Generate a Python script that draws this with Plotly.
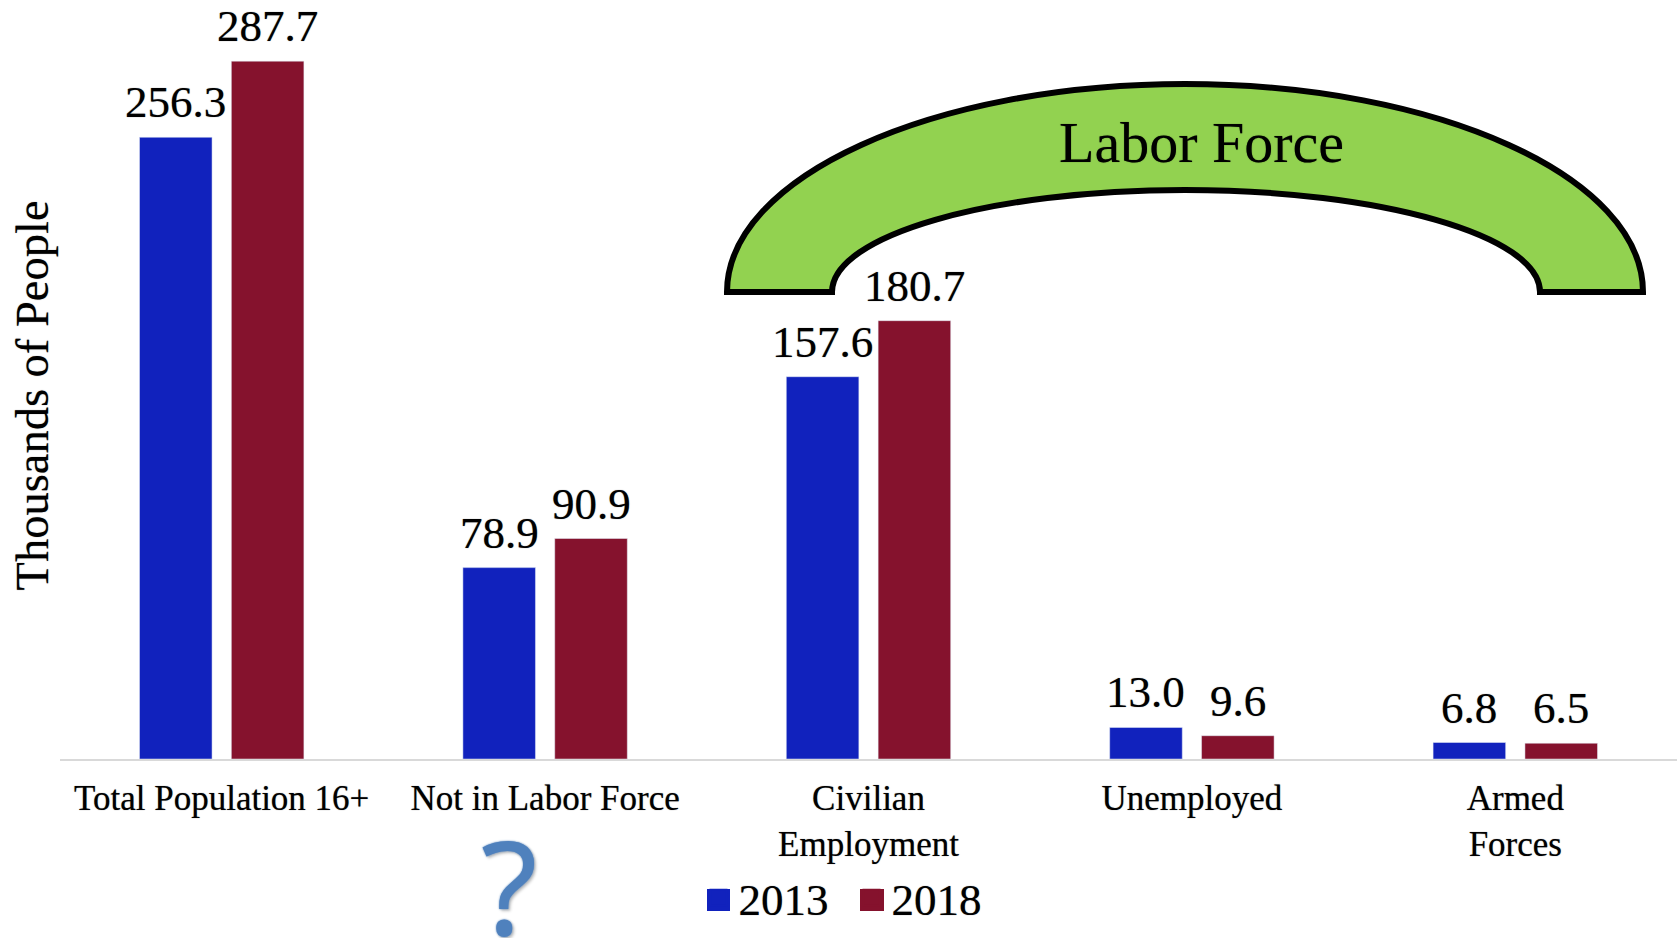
import plotly.graph_objects as go

categories = ["Total Population 16+", "Not in Labor Force", "Civilian<br>Employment", "Unemployed", "Armed<br>Forces"]
values_2013 = [256.3, 78.9, 157.6, 13.0, 6.8]
values_2018 = [287.7, 90.9, 180.7, 9.6, 6.5]
labels_2013 = ["256.3", "78.9", "157.6", "13.0", "6.8"]
labels_2018 = ["287.7", "90.9", "180.7", "9.6", "6.5"]

BLUE = "#1122BD"
RED = "#85122D"
SERIF = "Liberation Serif"
HEAVY = "0 0 1px rgba(0,0,0,0.55)"
W, H = 1677, 938
L, B = 60, 179
LABEL_SHIFT = 46
LABEL_LIFT = 8


def px(x):
    return (x - L) / (W - L)


def py(y):
    return (H - B - y) / (H - B)


def arch(x0, x1, ox0, ox1, top_o, top_i, base):
    k = 0.5523
    def p(x, y):
        return f"{px(x):.5f},{py(y):.5f}"
    cx = (x0 + x1) / 2
    rx, ry = (x1 - x0) / 2, base - top_o
    irx, iry = (ox1 - ox0) / 2, base - top_i
    return (
        f"M{p(x0, base)} C{p(x0, base - k * ry)} {p(cx - k * rx, top_o)} {p(cx, top_o)} "
        f"C{p(cx + k * rx, top_o)} {p(x1, base - k * ry)} {p(x1, base)} "
        f"L{p(ox1, base)} C{p(ox1, base - k * iry)} {p(cx + k * irx, top_i)} {p(cx, top_i)} "
        f"C{p(cx - k * irx, top_i)} {p(ox0, base - k * iry)} {p(ox0, base)} Z"
    )


def swatch(x0, x1, y0, y1, color):
    return dict(type="rect", xref="paper", yref="paper", x0=px(x0), x1=px(x1), y0=py(y0), y1=py(y1),
                fillcolor=color, line=dict(width=0), layer="above")


def value_labels(values, labels, shift):
    return [dict(text=t, x=c, y=v, xref="x", yref="y", xshift=shift, yshift=LABEL_LIFT, showarrow=False,
                 xanchor="center", yanchor="bottom",
                 font=dict(family=SERIF, size=45, color="#000000", shadow=HEAVY))
            for c, v, t in zip(categories, values, labels)]


fig = go.Figure()
fig.add_bar(x=categories, y=values_2013, name="2013", marker_color=BLUE, showlegend=False)
fig.add_bar(x=categories, y=values_2018, name="2018", marker_color=RED, showlegend=False)
fig.add_scatter(x=[None], y=[None], name="2013", mode="markers",
                marker=dict(symbol="square", size=16, color=BLUE, line=dict(color=BLUE, width=2)))
fig.add_scatter(x=[None], y=[None], name="2018", mode="markers",
                marker=dict(symbol="square", size=16, color=RED, line=dict(color=RED, width=2)))

fig.update_layout(
    width=W, height=H,
    margin=dict(l=L, r=0, t=0, b=B, autoexpand=False),
    paper_bgcolor="white", plot_bgcolor="white",
    barmode="group", bargap=0.432, bargroupgap=0.21,
    xaxis=dict(showgrid=False, zeroline=False, showline=True, linecolor="#D9D9D9", linewidth=2,
               ticks="", tickangle=0, tickfont=dict(family=SERIF, size=35, color="#000000", shadow=HEAVY),
               automargin=False, ticklabelstandoff=7),
    yaxis=dict(range=[0, 312.9], visible=False, fixedrange=True),
    showlegend=True,
    legend=dict(orientation="h", x=(698.5 - L) / (W - L), xanchor="left", y=-(898 - 759) / 759, yanchor="middle",
                font=dict(family=SERIF, size=45, color="#000000", shadow=HEAVY), bgcolor="rgba(0,0,0,0)",
                traceorder="normal", entrywidth=108),
    shapes=[
        dict(type="path", xref="paper", yref="paper",
             path=arch(727, 1643, 832, 1540, 84, 190, 292),
             fillcolor="#92D250", line=dict(color="#000000", width=6), layer="above"),
        swatch(707, 730, 889, 911, BLUE),
        swatch(860, 884, 889, 911, RED),
    ],
    annotations=value_labels(values_2013, labels_2013, -LABEL_SHIFT)
    + value_labels(values_2018, labels_2018, LABEL_SHIFT)
    + [
        dict(text="Labor Force", xref="paper", yref="paper", x=px(1201), y=py(143), showarrow=False,
             xanchor="center", yanchor="middle",
             font=dict(family=SERIF, size=58, color="#000000", shadow=HEAVY)),
        dict(text="Thousands of People", xref="paper", yref="paper", x=px(31.5), y=py(396), showarrow=False,
             xanchor="center", yanchor="middle",
             textangle=-90, font=dict(family=SERIF, size=46.5, color="#000000", shadow=HEAVY)),
        dict(text="?", xref="paper", yref="paper", x=px(509), y=py(884), showarrow=False,
             xanchor="center", yanchor="middle",
             font=dict(family="Noto Sans", size=130, color="#4F81BD",
                       shadow="0 0 2px #4F81BD, 2px 2px 3px rgba(0,0,0,0.25)")),
    ],
)

fig.write_html("out.html", config=dict(displayModeBar=False),
               post_script="document.body.style.margin='0';document.documentElement.style.overflow='hidden';")
